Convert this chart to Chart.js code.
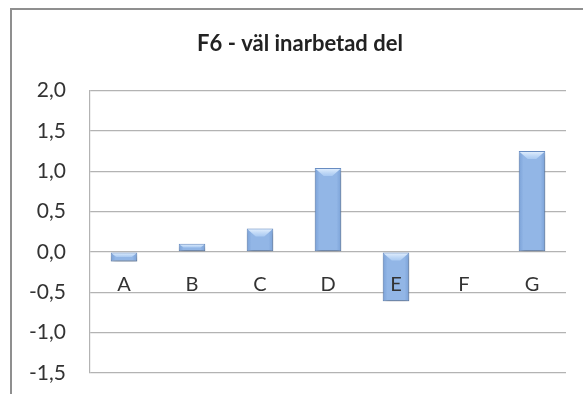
<!DOCTYPE html>
<html>
<head>
<meta charset="utf-8">
<script src="https://cdn.jsdelivr.net/npm/chart.js@4.4.0/dist/chart.umd.min.js"></script>
<style>
  html, body { margin: 0; padding: 0; background: #ffffff; }
</style>
</head>
<body>
<canvas id="c" width="583" height="394"></canvas>
<script>
// Data
const categories = ['A', 'B', 'C', 'D', 'E', 'F', 'G'];
const values = [-0.12, 0.10, 0.29, 1.04, -0.61, 0, 1.25];
const yTicks = [-1.5, -1.0, -0.5, 0.0, 0.5, 1.0, 1.5, 2.0];
const chartTitle = 'F6 - väl inarbetad del';

const BAR_PCT = 0.39;
const FONT = 'Lato';
const TEXT = '#333333';
const GRID = '#b3b3b3';

const fmt = v => Number(v).toFixed(1).replace('.', ',');

// Horizontal shading across each bar, like a soft cylinder
function barFill(ctx) {
  const chart = ctx.chart;
  const xs = chart.scales && chart.scales.x;
  if (!xs || ctx.dataIndex === undefined || !xs.width) return '#92b6e6';
  const cx = xs.getPixelForValue(ctx.dataIndex);
  const half = xs.width / categories.length * BAR_PCT / 2;
  const g = chart.ctx.createLinearGradient(cx - half, 0, cx + half, 0);
  g.addColorStop(0, '#7aa1d7');
  g.addColorStop(0.18, '#92b6e6');
  g.addColorStop(0.82, '#92b6e6');
  g.addColorStop(1, '#7aa1d7');
  return g;
}

// Outer frame of the chart object
const framePlugin = {
  id: 'frame',
  beforeDraw(chart) {
    const c = chart.ctx;
    c.save();
    c.fillStyle = '#ffffff';
    c.fillRect(0, 0, chart.width, chart.height);
    c.strokeStyle = '#8f8f8f';
    c.lineWidth = 2;
    c.strokeRect(11, 9, chart.width + 40, chart.height + 40);
    c.restore();
  }
};

// Category names sit just under the zero line
const categoryLabelPlugin = {
  id: 'categoryLabels',
  afterDatasetsDraw(chart) {
    const xs = chart.scales.x, ys = chart.scales.y;
    const c = chart.ctx;
    const y0 = ys.getPixelForValue(0);
    c.save();
    c.fillStyle = TEXT;
    c.font = '20px ' + FONT;
    c.textAlign = 'center';
    c.textBaseline = 'middle';
    categories.forEach((name, i) => {
      c.fillText(name, xs.getPixelForValue(i), y0 + 33);
    });
    c.restore();
  }
};

// Drop shadow under the bars and a light bevel on their top edge
const barLookPlugin = {
  id: 'barLook',
  beforeDatasetsDraw(chart) {
    const c = chart.ctx;
    c.save();
    c.shadowColor = 'rgba(0,0,0,0.38)';
    c.shadowBlur = 5;
    c.shadowOffsetX = 1;
    c.shadowOffsetY = 3;
  },
  afterDatasetsDraw(chart) {
    const c = chart.ctx;
    c.restore();
    const meta = chart.getDatasetMeta(0);
    meta.data.forEach(el => {
      const p = el.getProps(['x', 'y', 'base', 'width'], true);
      const top = Math.min(p.y, p.base);
      const bottom = Math.max(p.y, p.base);
      const h = bottom - top;
      if (h < 2) return;
      const l = p.x - p.width / 2 + 1;
      const r = p.x + p.width / 2 - 1;
      const b = Math.min(8, h / 2);
      const g = c.createLinearGradient(0, top, 0, top + b);
      g.addColorStop(0, 'rgba(232,243,255,1)');
      g.addColorStop(1, 'rgba(180,210,246,0.7)');
      c.save();
      c.beginPath();
      c.moveTo(l, top + 1);
      c.lineTo(r, top + 1);
      c.lineTo(r - b, top + b);
      c.lineTo(l + b, top + b);
      c.closePath();
      c.fillStyle = g;
      c.fill();
      c.restore();
    });
  }
};

new Chart(document.getElementById('c'), {
  type: 'bar',
  data: {
    labels: categories,
    datasets: [{
      data: values,
      backgroundColor: barFill,
      borderColor: '#6a8fc5',
      borderWidth: 1,
      borderSkipped: false,
      barPercentage: BAR_PCT,
      categoryPercentage: 1
    }]
  },
  options: {
    responsive: false,
    animation: false,
    layout: { padding: { left: 17, right: 0, top: 0, bottom: 21 } },
    plugins: {
      legend: { display: false },
      tooltip: { enabled: false },
      title: {
        display: true,
        text: chartTitle,
        color: '#222222',
        font: { family: FONT, size: 22, weight: 'bold' },
        padding: { top: 31, bottom: 33 }
      }
    },
    scales: {
      x: {
        display: false
      },
      y: {
        min: yTicks[0],
        max: yTicks[yTicks.length - 1],
        grid: { color: GRID, lineWidth: 1.2, drawTicks: false },
        border: { color: GRID, width: 1.2 },
        ticks: {
          stepSize: yTicks[1] - yTicks[0],
          color: TEXT,
          font: { family: FONT, size: 21 },
          padding: 24,
          callback: v => fmt(v)
        },
        afterFit(s) {
          s.width = 73;
          s.paddingTop = 0;
          s.paddingBottom = 0;
        }
      },
      yRight: {
        position: 'right',
        grid: { display: false, drawTicks: false },
        border: { display: false },
        ticks: { display: false },
        afterFit(s) { s.width = 17; }
      }
    }
  },
  plugins: [framePlugin, barLookPlugin, categoryLabelPlugin]
});
</script>
</body>
</html>
